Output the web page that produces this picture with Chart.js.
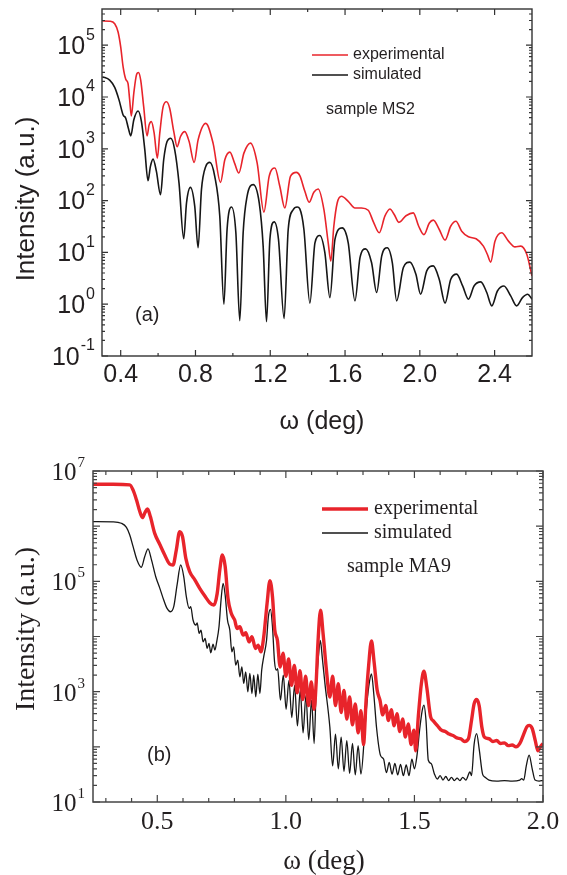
<!DOCTYPE html>
<html>
<head>
<meta charset="utf-8">
<script src="https://cdn.jsdelivr.net/npm/chart.js@4.4.0/dist/chart.umd.min.js"></script>
<style>
    html, body { margin: 0; padding: 0; background: #fff; }
    #wrap { position: relative; width: 567px; height: 875px; }
    canvas { position: absolute; left: 0; }
    #chartA { top: 0; }
    #chartB { top: 440px; }
</style>
</head>
<body>
<div id="wrap">
    <canvas id="chartA" width="567" height="440"></canvas>
    <canvas id="chartB" width="567" height="435"></canvas>
</div>
<script>
// ---- panel (a): sample MS2 ----
const aExpX = [0.302,0.341,0.368,0.386,0.400,0.413,0.427,0.439,0.448,0.457,0.470,0.484,0.495,0.507,0.523,0.541,0.552,0.564,0.579,0.596,0.609,0.627,0.645,0.662,0.684,0.702,0.720,0.743,0.766,0.793,0.814,0.855,0.894,0.934,0.957,0.984,1.009,1.032,1.059,1.094,1.130,1.166,1.194,1.225,1.251,1.278,1.308,1.340,1.358,1.385,1.408,1.433,1.456,1.487,1.510,1.524,1.540,1.558,1.581,1.617,1.653,1.688,1.724,1.754,1.783,1.813,1.840,1.863,1.888,1.926,1.965,1.994,2.022,2.051,2.072,2.104,2.135,2.165,2.193,2.224,2.260,2.301,2.340,2.361,2.379,2.402,2.438,2.474,2.509,2.540,2.572,2.600];
const aExpY = [2.94e5,2.9e5,2.6e5,1.8e5,9.3e4,3.8e4,2.2e4,1.83e4,8.8e3,4.3e3,1.18e4,2.65e4,2.98e4,2.12e4,6.5e3,1.78e3,2.9e3,3.35e3,2.0e3,660,2.0e3,6.5e3,8.1e3,6.05e3,2.15e3,1.1e3,1.73e3,2.15e3,1.38e3,546,1.49e3,3.1e3,1.29e3,225,614,862,530,340,826,1.29e3,530,60,294,425,189,72,294,351,303,151,93,145,168,67,15.3,6.8,32,90,121,97,72,72,65,37,23.9,50,69,54,38,51,58,32,22,37,42,27.7,17.3,32,40,25.7,20,18.3,13.2,9.2,6.5,16.5,23.9,16.5,12.8,13.2,9.2,3.5];
const aSimX = [0.302,0.341,0.368,0.391,0.413,0.427,0.441,0.454,0.470,0.493,0.511,0.529,0.546,0.559,0.573,0.591,0.613,0.630,0.648,0.668,0.689,0.712,0.737,0.752,0.773,0.796,0.814,0.832,0.855,0.877,0.903,0.930,0.952,0.969,0.993,1.016,1.037,1.055,1.076,1.109,1.141,1.162,1.180,1.198,1.221,1.244,1.274,1.296,1.323,1.344,1.358,1.380,1.412,1.439,1.465,1.492,1.519,1.546,1.585,1.617,1.653,1.680,1.710,1.742,1.769,1.796,1.826,1.853,1.876,1.912,1.947,1.979,2.004,2.037,2.072,2.104,2.135,2.165,2.197,2.229,2.260,2.290,2.326,2.358,2.385,2.415,2.450,2.486,2.518,2.549,2.577,2.600];
const aSimY = [2.46e4,2.12e4,1.53e4,8.8e3,4.5e3,3.9e3,2.5e3,1.78e3,3.6e3,5.37e3,3.35e3,957,242,457,632,366,130,614,1.38e3,1.6e3,957,218,18.3,90,180,78,12.3,163,457,546,294,50,1.0,27.7,75,23.9,0.48,23.9,121,203,90,13.2,0.46,17.8,38.8,17.8,0.53,27.7,67,75,69,27.7,1.05,15.3,21.2,9.9,1.34,17.8,29.8,15.3,1.16,7.9,11.7,6.3,1.68,8.5,12.3,6.3,1.16,5.1,6.5,3.8,1.56,4.4,5.5,3.0,1.05,3.0,3.8,2.25,1.25,2.25,2.7,1.68,0.93,1.8,2.25,1.45,0.93,1.34,1.56,1.25];
const aXTicks = [0.4, 0.8, 1.2, 1.6, 2.0, 2.4];
const aXMinor = [0.6, 1.0, 1.4, 1.8, 2.2];
const aYExp = [-1, 0, 1, 2, 3, 4, 5];

// ---- panel (b): sample MA9 ----
const bExpX = [0.250,0.328,0.393,0.406,0.419,0.432,0.442,0.452,0.462,0.473,0.490,0.509,0.529,0.548,0.561,0.574,0.587,0.598,0.611,0.626,0.646,0.665,0.685,0.704,0.720,0.733,0.743,0.753,0.764,0.775,0.788,0.801,0.810,0.821,0.834,0.844,0.857,0.868,0.882,0.892,0.903,0.914,0.927,0.938,0.948,0.957,
    0.967,0.978,0.989,1.000,1.011,1.022,1.033,1.044,1.055,1.066,1.077,1.088,1.099,1.110,1.118,1.125,1.135,
    1.145,1.158,1.171,1.182,1.193,1.204,1.215,1.226,1.237,1.248,1.259,1.270,1.281,1.292,1.302,1.312,1.322,1.333,1.343,1.355,1.366,1.377,1.388,1.399,1.410,1.421,1.432,1.443,1.454,1.465,1.476,1.487,1.498,1.505,1.515,1.527,1.537,1.548,1.563,1.575,1.590,1.605,1.620,1.635,1.650,1.665,1.680,1.695,1.710,1.722,1.732,1.742,1.752,1.762,1.772,1.790,1.805,1.820,1.835,1.850,1.865,1.880,1.895,1.910,1.925,1.937,1.946,1.958,1.970,1.980,1.990,2.000];
const bExpY = [5.75e6,5.75e6,5.6e6,4.5e6,3.0e6,1.84e6,1.43e6,1.76e6,2.05e6,1.49e6,7.4e5,4.75e5,3.0e5,2.06e5,1.98e5,3.7e5,7.96e5,6.5e5,2.6e5,1.5e5,1.06e5,7.45e4,5.4e4,4.1e4,3.7e4,6.05e4,1.6e5,3.0e5,1.85e5,4.9e4,2.6e4,1.99e4,1.4e4,1.5e4,1.06e4,1.17e4,8.0e3,9.9e3,6.07e3,6.98e3,5.28e3,9.9e3,3.98e4,1.03e5,5.26e4,1.3e4,
    8.6e3,2.8e3,5.0e3,1.9e3,3.9e3,1.3e3,3.0e3,950,2.4e3,720,1.9e3,560,1.5e3,480,1.5e3,8e3,3.0e4,
    1.1e4,2.4e3,800,1.9e3,560,1.4e3,420,1.05e3,320,800,250,600,180,450,110,700,3e3,8.3e3,3.5e3,1.07e3,700,380,560,300,470,240,400,190,320,150,260,110,200,85,350,1.4e3,2.35e3,1.2e3,350,290,240,200,190,170,160,145,140,125,140,300,600,720,550,230,150,140,125,130,115,118,105,108,100,115,170,230,245,215,130,85,100,115];
const bSimX = [0.250,0.328,0.360,0.380,0.393,0.406,0.421,0.438,0.451,0.464,0.477,0.494,0.510,0.525,0.538,0.551,0.564,0.577,0.591,0.603,0.613,0.624,0.630,0.639,0.650,0.655,0.663,0.670,0.678,0.686,0.694,0.701,0.708,0.717,0.724,0.731,0.740,0.748,0.756,0.764,0.773,0.782,0.790,0.797,0.805,0.813,0.821,0.829,0.836,0.844,0.852,0.860,0.868,0.875,0.883,0.891,0.899,0.906,0.914,0.925,0.932,0.940,0.948,0.956,0.963,
    0.968,0.979,0.990,1.001,1.012,1.023,1.034,1.045,1.056,1.067,1.078,1.089,1.100,1.110,1.118,1.126,1.134,1.142,1.152,1.171,
    1.182,1.193,1.204,1.215,1.226,1.237,1.248,1.259,1.270,1.281,1.292,1.307,1.315,1.325,1.333,1.342,1.353,1.368,1.380,1.391,1.402,1.413,1.424,1.435,1.446,1.457,1.468,1.479,1.490,1.500,1.510,1.520,1.530,1.537,1.545,1.554,1.565,1.578,1.589,1.600,1.611,1.622,1.633,1.644,1.655,1.666,1.677,1.688,1.700,1.716,1.722,1.732,1.742,1.752,1.765,1.775,1.790,1.820,1.850,1.880,1.910,1.917,1.925,1.935,1.946,1.958,1.969,1.985,2.000];
const bSimY = [1.21e6,1.2e6,1.13e6,9.5e5,6.9e5,4.25e5,2.44e5,1.8e5,2.8e5,3.86e5,2.5e5,1.21e5,7.45e4,4.58e4,3.23e4,2.81e4,3.47e4,8.6e4,1.98e5,1.21e5,5.26e4,3.23e4,3.47e4,1.99e4,1.61e4,1.77e4,1.14e4,1.31e4,8.0e3,9.2e3,6.07e3,7.5e3,5.07e3,7.3e3,5.66e3,8.0e3,1.5e4,4.6e4,9.2e4,5.6e4,1.99e4,1.31e4,5.28e3,6.5e3,3.03e3,3.73e3,1.86e3,2.82e3,1.41e3,2.29e3,993,2.14e3,926,2.0e3,806,2.08e3,926,2.45e3,4.3e3,8.6e3,2.28e4,3.1e4,1.5e4,3.48e3,2.45e3,
    2.6e3,700,2.0e3,480,1.6e3,340,1.3e3,240,1.05e3,180,850,135,700,115,1.2e3,4e3,8.5e3,4e3,1.4e3,230,
    45,170,40,150,36,130,33,115,31,105,32,200,600,1.5e3,2.1e3,900,215,70,60,34,52,32,50,31,48,30,47,30,60,40,70,200,450,570,300,57,50,32,26,30,25,29,24.5,28,24.5,27,24.5,28,25,35,30,110,174,90,32,28,25,24,24.5,24,25,26.5,25,45,71,40,25,24,24.5];
const bXTicks = [0.5, 1.0, 1.5, 2.0];
const bXMinor = [0.3, 0.4, 0.6, 0.7, 0.8, 0.9, 1.1, 1.2, 1.3, 1.4, 1.6, 1.7, 1.8, 1.9];
const bYExp = [1, 2, 3, 4, 5, 6, 7];
const bYLabelExp = [1, 3, 5, 7];

const RED = '#e8242b';
const BLACK = '#161616';

function pts(xs, ys) {
    return xs.map((x, i) => ({ x: x, y: ys[i] }));
}

// frame, inward ticks, labels and notes are drawn by hand with the chart's own scales
function framePlugin(cfg) {
    return {
        id: 'frame',
        afterDraw(chart) {
            const ctx = chart.ctx;
            const a = chart.chartArea;
            const xs = chart.scales.x;
            const ys = chart.scales.y;
            ctx.save();
            ctx.strokeStyle = cfg.frameColor;
            ctx.fillStyle = '#231f20';
            ctx.lineWidth = cfg.frameWidth;
            ctx.strokeRect(a.left, a.top, a.right - a.left, a.bottom - a.top);

            ctx.lineWidth = cfg.tickWidth;
            ctx.beginPath();
            const xTick = (v, len) => {
                const p = xs.getPixelForValue(v);
                ctx.moveTo(p, a.bottom); ctx.lineTo(p, a.bottom - len);
                ctx.moveTo(p, a.top); ctx.lineTo(p, a.top + len);
            };
            const yTick = (v, len) => {
                const p = ys.getPixelForValue(v);
                ctx.moveTo(a.left, p); ctx.lineTo(a.left + len, p);
                ctx.moveTo(a.right, p); ctx.lineTo(a.right - len, p);
            };
            cfg.xMajor.forEach(v => xTick(v, cfg.majorLen));
            cfg.xMinor.forEach(v => xTick(v, cfg.minorLen));
            cfg.yExp.forEach(e => yTick(Math.pow(10, e), cfg.majorLen));
            for (let e = cfg.yExp[0] - 1; e <= cfg.yExp[cfg.yExp.length - 1]; e++) {
                for (let k = 2; k <= 9; k++) {
                    const v = k * Math.pow(10, e);
                    if (v > ys.min && v < ys.max) yTick(v, cfg.minorLen);
                }
            }
            ctx.stroke();

            // x tick labels
            ctx.textBaseline = 'middle';
            ctx.textAlign = 'center';
            ctx.font = cfg.xLabelSize + 'px ' + cfg.font;
            cfg.xMajor.forEach(v => {
                ctx.fillText(v.toFixed(1), xs.getPixelForValue(v), cfg.xLabelY);
            });

            // y tick labels 10^n
            cfg.yLabelExp.forEach(e => {
                const p = ys.getPixelForValue(Math.pow(10, e));
                ctx.textAlign = 'right';
                ctx.font = cfg.supSize + 'px ' + cfg.font;
                const sup = String(e);
                const w = ctx.measureText(sup).width;
                ctx.fillText(sup, cfg.yLabelRight, p + cfg.supDy);
                ctx.font = cfg.baseSize + 'px ' + cfg.font;
                ctx.fillText('10', cfg.yLabelRight - w - 1, p + cfg.baseDy);
            });

            // axis titles
            ctx.textAlign = 'center';
            ctx.font = cfg.xTitle.size + 'px ' + cfg.font;
            ctx.fillText(cfg.xTitle.text, cfg.xTitle.x, cfg.xTitle.y);
            ctx.save();
            ctx.translate(cfg.yTitle.x, cfg.yTitle.y);
            ctx.rotate(-Math.PI / 2);
            ctx.font = cfg.yTitle.size + 'px ' + cfg.font;
            ctx.fillText(cfg.yTitle.text, 0, 0);
            ctx.restore();

            // legend
            cfg.legend.forEach(l => {
                ctx.strokeStyle = l.color;
                ctx.lineWidth = l.width;
                ctx.beginPath();
                ctx.moveTo(l.x0, l.y); ctx.lineTo(l.x1, l.y);
                ctx.stroke();
                ctx.textAlign = 'left';
                ctx.font = l.size + 'px ' + cfg.font;
                ctx.fillText(l.text, l.tx, l.y);
            });

            // notes
            cfg.notes.forEach(n => {
                ctx.textAlign = 'left';
                ctx.font = n.size + 'px ' + (n.font || cfg.font);
                ctx.fillText(n.text, n.x, n.y);
            });
            ctx.restore();
        }
    };
}

function makeChart(id, sets, sc, pad, cfg) {
    return new Chart(document.getElementById(id), {
        type: 'line',
        data: { datasets: sets },
        options: {
            responsive: false,
            animation: false,
            devicePixelRatio: 1,
            events: [],
            layout: { padding: pad },
            plugins: { legend: { display: false }, tooltip: { enabled: false } },
            scales: {
                x: {
                    type: 'linear', min: sc.xMin, max: sc.xMax,
                    grid: { display: false }, border: { display: false },
                    ticks: { display: false },
                    afterFit: s => { s.height = sc.xH; }
                },
                y: {
                    type: 'logarithmic', min: sc.yMin, max: sc.yMax,
                    grid: { display: false }, border: { display: false },
                    ticks: { display: false },
                    afterFit: s => { s.width = sc.yW; }
                }
            }
        },
        plugins: [framePlugin(cfg)]
    });
}

const lineStyle = { pointRadius: 0, fill: false, cubicInterpolationMode: 'monotone' };

makeChart('chartA', [
    Object.assign({ label: 'experimental', data: pts(aExpX, aExpY), borderColor: RED, borderWidth: 1.6 }, lineStyle),
    Object.assign({ label: 'simulated', data: pts(aSimX, aSimY), borderColor: BLACK, borderWidth: 1.6 }, lineStyle)
], { xMin: 0.3, xMax: 2.6, yMin: 0.1, yMax: 5e5, xH: 84, yW: 102 },
   { left: 0, right: 35, top: 9, bottom: 0 },
   {
    font: '"Liberation Sans", Arial, sans-serif',
    frameColor: '#333', frameWidth: 1.4, tickWidth: 1.2, majorLen: 6, minorLen: 3,
    xMajor: aXTicks, xMinor: aXMinor, xLabelY: 375, xLabelSize: 25,
    yExp: aYExp, yLabelExp: aYExp, yLabelRight: 95, baseSize: 25, supSize: 16, baseDy: 2, supDy: -10,
    xTitle: { text: 'ω (deg)', x: 322, y: 422, size: 25 },
    yTitle: { text: 'Intensity (a.u.)', x: 27, y: 199, size: 26 },
    legend: [
        { color: RED, width: 1.6, x0: 312, x1: 348, y: 55, text: 'experimental', tx: 353, size: 16 },
        { color: BLACK, width: 1.6, x0: 312, x1: 348, y: 75, text: 'simulated', tx: 353, size: 16 }
    ],
    notes: [
        { text: 'sample MS2', x: 326, y: 110, size: 16 },
        { text: '(a)', x: 135, y: 315, size: 20 }
    ]
});

makeChart('chartB', [
    Object.assign({ label: 'experimental', data: pts(bExpX, bExpY), borderColor: RED, borderWidth: 3.4 }, lineStyle),
    Object.assign({ label: 'simulated', data: pts(bSimX, bSimY), borderColor: BLACK, borderWidth: 1.3 }, lineStyle)
], { xMin: 0.25, xMax: 2.0, yMin: 10, yMax: 1e7, xH: 73, yW: 93 },
   { left: 0, right: 24, top: 31, bottom: 0 },
   {
    font: '"Liberation Serif", "Times New Roman", serif',
    frameColor: '#444', frameWidth: 1.5, tickWidth: 1.2, majorLen: 7, minorLen: 4,
    xMajor: bXTicks, xMinor: bXMinor, xLabelY: 382, xLabelSize: 26,
    yExp: bYExp, yLabelExp: bYLabelExp, yLabelRight: 85, baseSize: 25, supSize: 15, baseDy: 2.5, supDy: -8,
    xTitle: { text: 'ω (deg)', x: 324, y: 422, size: 27 },
    yTitle: { text: 'Intensity (a.u.)', x: 27, y: 189, size: 28 },
    legend: [
        { color: RED, width: 3.4, x0: 322, x1: 368, y: 69, text: 'experimental', tx: 374, size: 20 },
        { color: BLACK, width: 1.4, x0: 322, x1: 368, y: 93, text: 'simulated', tx: 374, size: 20 }
    ],
    notes: [
        { text: 'sample MA9', x: 347, y: 127, size: 20 },
        { text: '(b)', x: 147, y: 315, size: 20, font: '"Liberation Sans", Arial, sans-serif' }
    ]
});
</script>
</body>
</html>
